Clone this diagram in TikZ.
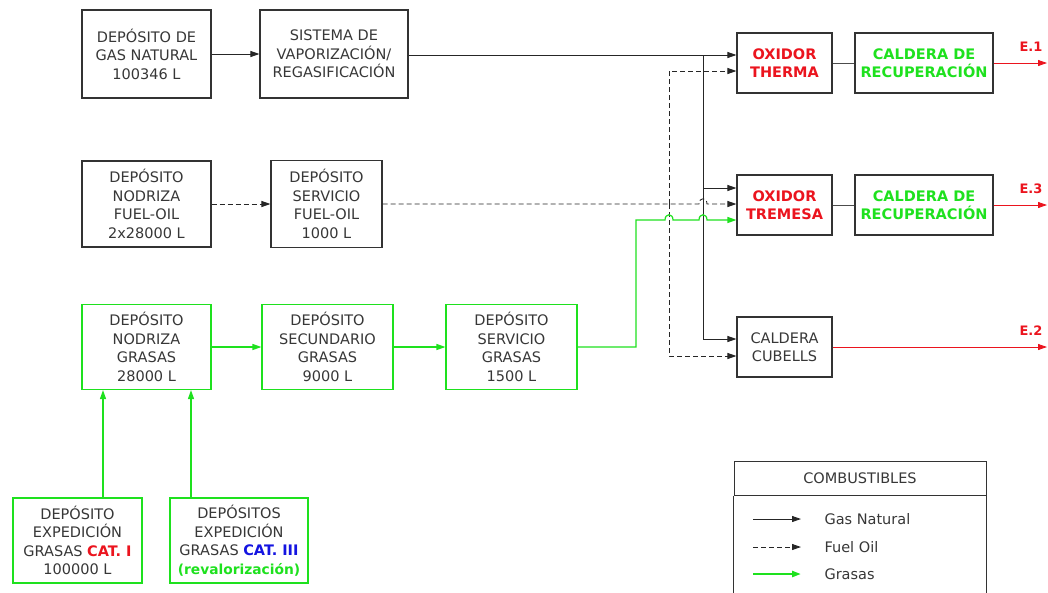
\documentclass[tikz,border=0pt]{standalone}
\usepackage{fontspec}
\setmainfont{DejaVu Sans}
\usetikzlibrary{arrows.meta, calc}
\definecolor{gtxt}{RGB}{55,55,55}
\definecolor{vred}{RGB}{235,20,30}
\definecolor{vgreen}{RGB}{30,225,30}
\definecolor{vblue}{RGB}{20,20,225}

\begin{document}
\begin{tikzpicture}[x=1pt, y=-1pt,
  box/.style={draw=black!80, line width=1.1pt, fill=white, text=gtxt, align=center,
              font=\fontsize{14.5}{18.5}\selectfont, inner sep=1pt},
  gbox/.style={box, draw=vgreen},
  gas/.style={-{Triangle[length=9pt,width=6pt]}, line width=0.9pt, black!85},
  fuel/.style={gas, dash pattern=on 5pt off 3pt},
  grasa/.style={-{Triangle[length=9pt,width=6pt]}, line width=1.2pt, vgreen},
  emis/.style={-{Triangle[length=9pt,width=6pt]}, line width=0.8pt, vred},
  hot/.style={font=\fontsize{14.5}{18.5}\selectfont\bfseries},
  elab/.style={font=\fontsize{13}{15}\selectfont\bfseries, text=vred},
  leg/.style={anchor=west, text=gtxt, font=\fontsize{14.5}{18}\selectfont}
]
\useasboundingbox (0,0) rectangle (1048,592);

% gas natural
\node[box, minimum width=129pt, minimum height=88pt] (gn)  at (146.5,54) {DEPÓSITO DE\\GAS NATURAL\\100346 L};
\node[box, minimum width=148pt, minimum height=88pt] (vap) at (334,54)   {SISTEMA DE\\VAPORIZACIÓN/\\REGASIFICACIÓN};

% fuel-oil
\node[box, minimum width=129pt, minimum height=86pt] (fon) at (146.5,204) {DEPÓSITO\\NODRIZA\\FUEL-OIL\\2x28000 L};
\node[box, minimum width=111pt, minimum height=87pt] (fos) at (326.5,204) {DEPÓSITO\\SERVICIO\\FUEL-OIL\\1000 L};

% grasas
\node[gbox, minimum width=129pt, minimum height=85pt] (grn) at (146.5,347) {DEPÓSITO\\NODRIZA\\GRASAS\\28000 L};
\node[gbox, minimum width=131pt, minimum height=85pt] (grs) at (327.5,347) {DEPÓSITO\\SECUNDARIO\\GRASAS\\9000 L};
\node[gbox, minimum width=131pt, minimum height=85pt] (grv) at (511.5,347) {DEPÓSITO\\SERVICIO\\GRASAS\\1500 L};
\node[gbox, minimum width=129pt, minimum height=85pt] (cat1) at (77.5,540.5)
  {DEPÓSITO\\EXPEDICIÓN\\GRASAS \textcolor{vred}{\textbf{CAT. I}}\\100000 L};
\node[gbox, minimum width=138pt, minimum height=85pt] (cat3) at (239,540.5)
  {DEPÓSITOS\\EXPEDICIÓN\\GRASAS \textcolor{vblue}{\textbf{CAT. III}}\\{\fontsize{13.8}{18.5}\selectfont\textcolor{vgreen}{\textbf{(revalorización)}}}};

% consumidores
\node[box, hot, text=vred, minimum width=95pt, minimum height=60pt] (oxt) at (784.5,63) {OXIDOR\\THERMA};
\node[box, hot, text=vgreen, minimum width=138pt, minimum height=60pt] (cr1) at (924,63) {CALDERA DE\\RECUPERACIÓN};
\node[box, hot, text=vred, minimum width=95pt, minimum height=60pt] (oxm) at (784.5,205) {OXIDOR\\TREMESA};
\node[box, hot, text=vgreen, minimum width=138pt, minimum height=60pt] (cr3) at (924,205) {CALDERA DE\\RECUPERACIÓN};
\node[box, minimum width=95pt, minimum height=60pt] (cub) at (784.5,347) {CALDERA\\CUBELLS};

\node[elab] (e1) at (1031,47)  {E.1};
\node[elab] (e3) at (1031,189) {E.3};
\node[elab] (e2) at (1031,331) {E.2};
\coordinate (e1end) at (1047,63);
\coordinate (e3end) at (1047,205);
\coordinate (e2end) at (1047,347);

\coordinate (gj) at (703,55);
\coordinate (fj) at (669,204);

% gas natural
\draw[gas] (gn) -- (vap);
\draw[gas] (vap.east |- gj) -- (gj -| oxt.west);
\draw[gas] (gj) |- (oxm.west |- 0,188);
\draw[gas] (gj) |- (cub.west |- 0,339);

% fuel-oil
\draw[fuel] (fon) -- (fos);
\draw[fuel] (fos.east) -- (699,204) .. controls (699,197) and (707,197) .. (707,204) -- (oxm.west |- fos.east);
\draw[fuel] (fj) |- (oxt.west |- 0,71);
\draw[fuel] (fj) |- (cub.west |- 0,356);

% grasas
\draw[grasa] (cat1.north -| 103,0) -- (grn.south -| 103,0);
\draw[grasa] (cat3.north -| 191,0) -- (grn.south -| 191,0);
\draw[grasa] (grn) -- (grs);
\draw[grasa] (grs) -- (grv);
\draw[grasa] (grv.east) -- (636,347) -- (636,220) -- (665,220) .. controls (665,213) and (673,213) .. (673,220)
  -- (699,220) .. controls (699,213) and (707,213) .. (707,220) -- (oxm.west |- 0,220);

% emisiones
\draw[black!70, line width=1pt] (oxt) -- (cr1);
\draw[black!70, line width=1pt] (oxm) -- (cr3);
\draw[emis] (cr1.east) -- (e1end);
\draw[emis] (cr3.east) -- (e3end);
\draw[emis] (cub.east) -- (e2end);

% leyenda
\node[draw=black!80, line width=1pt, minimum width=252pt, minimum height=34pt, text=gtxt,
      font=\fontsize{14.5}{18}\selectfont] (legtit) at (860,478) {COMBUSTIBLES};
\draw[black!80, line width=1pt] (legtit.south west) -- (legtit.south west |- 0,600);
\draw[black!80, line width=1pt] (legtit.south east) -- (legtit.south east |- 0,600);
\node[leg] (lgas) at (821,519) {Gas Natural};
\node[leg] (lfuel) at (821,547) {Fuel Oil};
\node[leg] (lgra) at (821,574) {Grasas};
\draw[gas] ($(lgas.west)+(-68,0)$) -- ($(lgas.west)+(-20,0)$);
\draw[fuel] ($(lfuel.west)+(-68,0)$) -- ($(lfuel.west)+(-20,0)$);
\draw[grasa, line width=2.2pt] ($(lgra.west)+(-68,0)$) -- ($(lgra.west)+(-20,0)$);
\end{tikzpicture}
\end{document}
